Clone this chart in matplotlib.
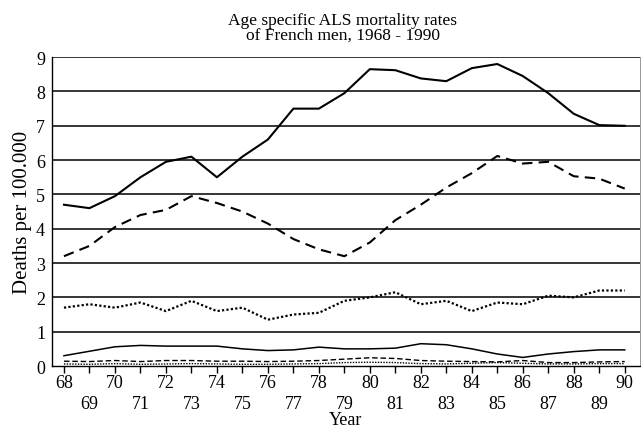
import matplotlib
matplotlib.use('Agg')
import matplotlib.pyplot as plt

plt.rcParams['font.family'] = ['Liberation Serif', 'DejaVu Serif']

years = list(range(68, 91))

# age groups, top to bottom
solid_high = [4.7, 4.6, 4.95, 5.5, 5.95, 6.1, 5.5, 6.1, 6.6, 7.5, 7.5, 7.95,
              8.65, 8.62, 8.38, 8.3, 8.68, 8.8, 8.45, 7.95, 7.35, 7.02, 7.0]
dashed_high = [3.2, 3.5, 4.05, 4.4, 4.55, 4.95, 4.75, 4.5, 4.15, 3.7, 3.4, 3.2,
               3.6, 4.25, 4.7, 5.2, 5.62, 6.12, 5.9, 5.95, 5.53, 5.46, 5.17]
dotted_mid = [1.7, 1.8, 1.7, 1.85, 1.6, 1.9, 1.6, 1.7, 1.35, 1.5, 1.55, 1.9,
              2.0, 2.15, 1.8, 1.9, 1.6, 1.85, 1.8, 2.05, 2.0, 2.2, 2.2]
solid_low = [0.3, 0.43, 0.56, 0.6, 0.58, 0.58, 0.58, 0.5, 0.45, 0.47, 0.55, 0.5,
             0.5, 0.52, 0.65, 0.62, 0.5, 0.35, 0.25, 0.35, 0.42, 0.47, 0.47]
dashed_low = [0.14, 0.13, 0.16, 0.13, 0.16, 0.16, 0.14, 0.14, 0.13, 0.14, 0.16, 0.2,
              0.24, 0.22, 0.16, 0.14, 0.13, 0.12, 0.16, 0.1, 0.1, 0.12, 0.13]
dotted_low = [0.06, 0.05, 0.07, 0.05, 0.06, 0.07, 0.06, 0.05, 0.05, 0.06, 0.07, 0.1,
              0.11, 0.1, 0.07, 0.06, 0.08, 0.1, 0.08, 0.06, 0.06, 0.07, 0.07]

tick_labels = [str(y) if y % 2 == 0 else '\n' + str(y) for y in years]

fig = plt.figure(figsize=(6.41, 4.35), dpi=100)
ax = fig.add_axes([0.0811, 0.1563, 0.917, 0.710])

for v in range(1, 10):
    ax.axhline(v, color='black', lw=1.1, zorder=1)

ax.plot(years, solid_high, color='black', lw=1.5, zorder=3)
ax.plot(years, dashed_high, color='black', lw=1.5, dashes=(5, 3), zorder=3)
ax.plot(years, dotted_mid, color='black', lw=1.6, dashes=(1, 1), zorder=3)
ax.plot(years, solid_low, color='black', lw=1.1, zorder=3)
ax.plot(years, dashed_low, color='black', lw=1.0, dashes=(4, 2), zorder=3)
ax.plot(years, dotted_low, color='black', lw=1.0, dashes=(1, 1), zorder=3)

ax.set_xlim(67.53, 90.59)
ax.set_ylim(0, 9)
ax.set_yticks(range(0, 10))
ax.set_xticks(years)
ax.set_xticklabels(tick_labels, fontsize=13)
for lab in ax.get_xticklabels():
    lab.set_linespacing(1.3)
ax.tick_params(axis='y', labelsize=13, length=0, pad=5)
ax.tick_params(axis='x', direction='out', length=5, width=1, pad=1)

ax.spines['top'].set_visible(False)
ax.spines['right'].set_color('#888888')
ax.spines['right'].set_linewidth(0.6)
ax.spines['left'].set_linewidth(1.0)
ax.spines['bottom'].set_linewidth(1.0)

ax.set_xlabel('Year', fontsize=13, labelpad=-1)
ax.set_ylabel('Deaths per 100.000', fontsize=15, labelpad=3)
fig.text(343 / 641, 1 - 13 / 435,
         'Age specific ALS mortality rates\nof French men, 1968 - 1990',
         fontsize=12.5, ha='center', va='top', linespacing=0.9)

fig.savefig('out.png', dpi=100)
